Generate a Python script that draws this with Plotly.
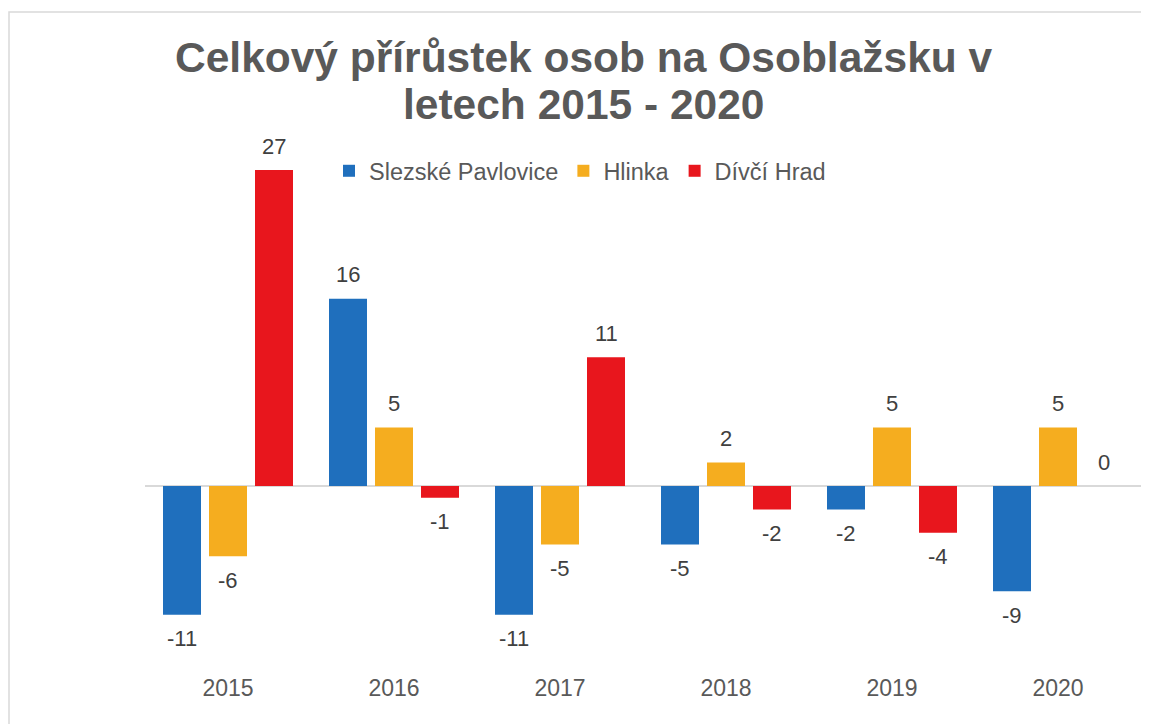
import plotly.graph_objects as go

years = ["2015", "2016", "2017", "2018", "2019", "2020"]
slezske = [-11, 16, -11, -5, -2, -9]
hlinka = [-6, 5, -5, 2, 5, 5]
divci = [27, -1, 11, -2, -4, 0]
series_names = ["Slezské Pavlovice", "Hlinka", "Dívčí Hrad"]
title_line1 = "Celkový přírůstek osob na Osoblažsku v"
title_line2 = "letech 2015 - 2020"

colors = ["#1f6fbd", "#f5ad1f", "#e8161d"]
FONT = "Liberation Sans, Arial"

# page body has an 8px margin; compensate by shrinking the canvas
OFF = 8
W, H = 1149 - OFF, 724 - OFF
ml, mr, mt, mb = 145 - OFF, 8, 150 - OFF, 52
plot_h = H - mt - mb
plot_w = W - ml - mr
UNIT = 11.7  # px per unit
BASE = 486 - OFF
SLOT = 46     # px between bar centres within a group
LABEL_GAP = 24

def py(y):
    return (H - mb - (y - OFF)) / plot_h

def px(x):
    return (x - OFF - ml) / plot_w

fig = go.Figure()
all_series = [slezske, hlinka, divci]
for name, vals, col in zip(series_names, all_series, colors):
    fig.add_trace(go.Bar(
        x=years, y=vals, name=name,
        marker=dict(color=col, line=dict(width=0)),
        cliponaxis=False,
    ))

annotations = []
for i, vals in enumerate(all_series):
    for j, v in enumerate(vals):
        annotations.append(dict(
            x=j, y=v, xref="x", yref="y", text=str(v), showarrow=False,
            xshift=(i - 1) * SLOT, yshift=LABEL_GAP if v >= 0 else -LABEL_GAP,
            xanchor="center", yanchor="middle",
            font=dict(size=22, color="#404040", family=FONT),
        ))

annotations += [
    dict(text=f"<b>{title_line1}</b>", xref="paper", yref="paper", x=px(584), y=py(57),
         xanchor="center", yanchor="middle", showarrow=False,
         font=dict(size=42.5, color="#595959", family=FONT)),
    dict(text=f"<b>{title_line2}</b>", xref="paper", yref="paper", x=px(584), y=py(105),
         xanchor="center", yanchor="middle", showarrow=False,
         font=dict(size=42.5, color="#595959", family=FONT)),
]

fig.update_layout(
    width=W, height=H,
    margin=dict(l=ml, r=mr, t=mt, b=mb),
    paper_bgcolor="white", plot_bgcolor="white",
    barmode="group", bargap=0.1687, bargroupgap=0.174,
    font=dict(family=FONT, color="#595959"),
    showlegend=True,
    legend=dict(orientation="h", x=px(580), xanchor="center", y=py(171), yanchor="middle",
                font=dict(size=23.5, color="#595959"), itemsizing="constant",
                bgcolor="rgba(0,0,0,0)"),
    xaxis=dict(type="category", showline=False, showgrid=False, ticks="",
               tickfont=dict(size=23, color="#595959")),
    yaxis=dict(range=[-(H - mb - BASE) / UNIT, (BASE - mt) / UNIT], showgrid=False,
               showticklabels=False, ticks="", showline=False,
               zeroline=True, zerolinecolor="#d9d9d9", zerolinewidth=2),
    annotations=annotations,
    shapes=[dict(type="rect", xref="paper", yref="paper", x0=px(9), y0=py(760), x1=px(1190), y1=py(12),
                 line=dict(color="#d9d9d9", width=1.5), fillcolor="rgba(0,0,0,0)", layer="below")],
)

fig.write_html("out.html")
